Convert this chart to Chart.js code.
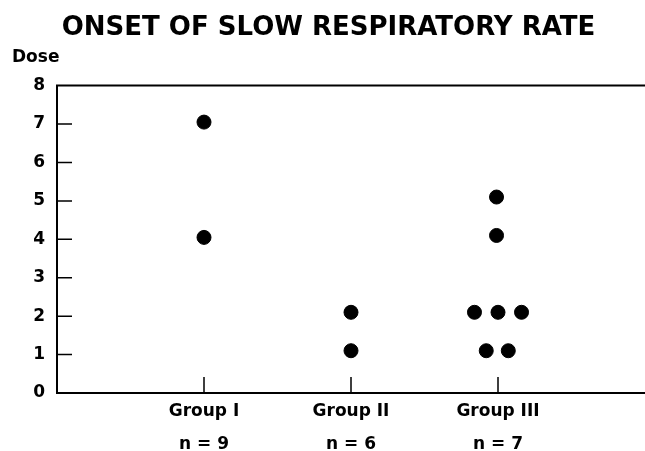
<!DOCTYPE html>
<html>
<head>
<meta charset="utf-8">
<script src="https://cdn.jsdelivr.net/npm/chart.js@4"></script>
<style>
  html, body { margin: 0; padding: 0; background: #fff; }
  #wrap { width: 645px; height: 451px; }
</style>
</head>
<body>
<div id="wrap"><canvas id="respRate"></canvas></div>
<script>
var groups = ["Group I", "Group II", "Group III"];
var groupN = [9, 6, 7];
var groupPos = [1, 2, 3];
var doseTicks = [0, 1, 2, 3, 4, 5, 6, 7, 8];

// one entry per dot: x = group position (with the sideways spread of the original), dose
var dotX = [1, 1, 2, 2, 2.99, 2.99, 2.84, 3.0, 3.16, 2.92, 3.07];
var dotDose = [7.05, 4.05, 2.1, 1.1, 5.1, 4.1, 2.1, 2.1, 2.1, 1.1, 1.1];

var points = dotX.map(function (x, i) {
  return { x: x, y: dotDose[i] };
});

var labelFont = { family: "DejaVu Sans", size: 17, weight: "bold" };

// axis frame with the inward tick marks
var frame = {
  id: "frame",
  beforeDatasetsDraw: function (chart) {
    var ctx = chart.ctx, a = chart.chartArea;
    var xs = chart.scales.x, ys = chart.scales.y;
    var top = ys.getPixelForValue(doseTicks[doseTicks.length - 1]);
    ctx.save();
    ctx.strokeStyle = "#000";
    ctx.lineWidth = 2;
    ctx.beginPath();
    ctx.moveTo(a.right, top);
    ctx.lineTo(a.left, top);
    ctx.lineTo(a.left, a.bottom);
    ctx.lineTo(a.right, a.bottom);
    ctx.stroke();
    ctx.lineWidth = 1.5;
    ctx.beginPath();
    doseTicks.slice(1, -1).forEach(function (v) {
      var py = ys.getPixelForValue(v);
      ctx.moveTo(a.left, py);
      ctx.lineTo(a.left + 15, py);
    });
    groupPos.forEach(function (v) {
      var px = xs.getPixelForValue(v);
      ctx.moveTo(px, a.bottom);
      ctx.lineTo(px, a.bottom - 16);
    });
    ctx.stroke();
    ctx.restore();
  }
};

new Chart("respRate", {
  type: "scatter",
  data: {
    datasets: [
      {
        data: points,
        backgroundColor: "#000",
        borderColor: "#000",
        pointRadius: 7,
        pointHoverRadius: 7,
      },
    ],
  },
  options: {
    responsive: true,
    maintainAspectRatio: false,
    animation: false,
    layout: { autoPadding: false, padding: { left: 12, right: 0, top: 0, bottom: 0 } },
    plugins: {
      legend: { display: false },
      tooltip: { enabled: false },
      title: {
        display: true,
        text: "ONSET OF SLOW RESPIRATORY RATE",
        color: "#000",
        font: { family: "DejaVu Sans", size: 26, weight: "bold" },
        padding: { top: 13, bottom: 0 },
      },
      subtitle: {
        display: true,
        text: "Dose",
        align: "start",
        color: "#000",
        font: labelFont,
        padding: { top: 3, bottom: 18 },
      },
    },
    scales: {
      x: {
        type: "linear",
        min: 0,
        max: 4,
        grid: { display: false, drawTicks: false },
        border: { display: false },
        afterBuildTicks: function (s) {
          s.ticks = groupPos.map(function (v) { return { value: v }; });
        },
        afterFit: function (s) { s.height = 58; },
        ticks: {
          color: "#000",
          font: { family: "DejaVu Sans", size: 17, weight: "bold", lineHeight: 1.95 },
          padding: 2,
          maxRotation: 0,
          autoSkip: false,
          callback: function (v) {
            var i = groupPos.indexOf(v);
            return i < 0 ? "" : [groups[i], "n = " + groupN[i]];
          },
        },
      },
      y: {
        min: 0,
        max: 8,
        grid: { display: false, drawTicks: false },
        border: { display: false },
        afterFit: function (s) { s.width = 45; },
        ticks: {
          stepSize: 1,
          color: "#000",
          font: labelFont,
          padding: 12,
        },
      },
    },
  },
  plugins: [frame],
});
</script>
</body>
</html>
